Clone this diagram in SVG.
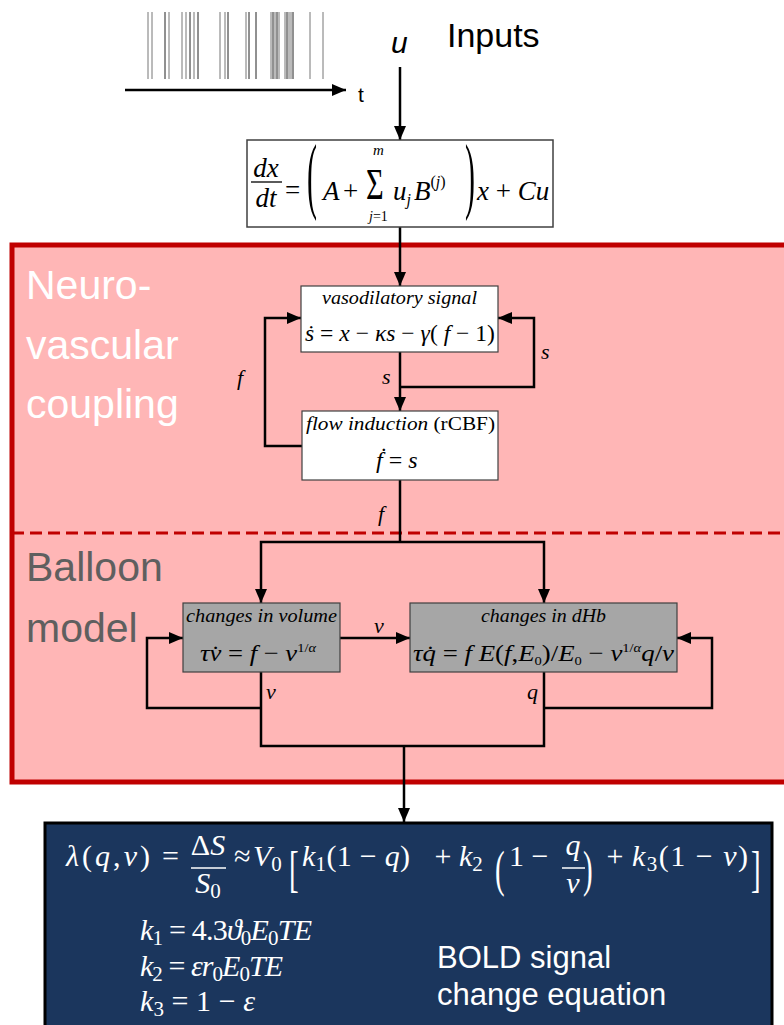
<svg xmlns="http://www.w3.org/2000/svg" width="784" height="1025" viewBox="0 0 784 1025">
<style>
.ln{fill:none;stroke:#000;stroke-width:2.5}
.arr{marker-end:url(#ah)}
.sp{stroke:#777;stroke-width:1}
.sp2{stroke:#222;stroke-width:1}
.sans{font-family:"Liberation Sans",Arial,sans-serif}
.ser{font-family:"Liberation Serif","Times New Roman",serif}
.it{font-style:italic}
.lbl{font-family:"Liberation Serif","Times New Roman",serif;font-style:italic;font-size:22px;fill:#000}
.cap{font-family:"Liberation Serif","Times New Roman",serif;font-style:italic;font-size:19px;fill:#000}
.eq{font-family:"Liberation Serif","Times New Roman",serif;font-size:24px;fill:#000}
.wbox{fill:#fff;stroke:#404040;stroke-width:1.2}
.gbox{fill:#a6a6a6;stroke:#404040;stroke-width:1.2}
.m{font-family:"Liberation Serif","DejaVu Serif",serif;font-size:30px;fill:#fff}
.big{font-family:"Liberation Sans",Arial,sans-serif;font-size:41px}
</style>
<defs>
<marker id="ah" viewBox="0 0 14 12" refX="14" refY="6" markerWidth="14" markerHeight="12" markerUnits="userSpaceOnUse" orient="auto">
<path d="M0,0 L14,6 L0,12 Z" fill="#000"/>
</marker>
</defs>

<!-- region backgrounds -->
<g id="regions">
<rect x="12" y="245" width="790" height="537" fill="#ffb6b6" stroke="#c00000" stroke-width="5"/>
<line x1="12" y1="533" x2="784" y2="533" stroke="#c00000" stroke-width="3" stroke-dasharray="12,6"/>
<text class="big" x="26" y="299" fill="#fff">Neuro-</text>
<text class="big" x="26" y="359" fill="#fff">vascular</text>
<text class="big" x="26" y="418" fill="#fff">coupling</text>
<text class="big" x="26" y="581" fill="#5f5f5f">Balloon</text>
<text class="big" x="26" y="642" fill="#5f5f5f">model</text>
</g>

<!-- inputs -->
<g id="inputs">
<g>
<line class="sp" x1="148" y1="12" x2="148" y2="79"/>
<line class="sp" x1="152" y1="12" x2="152" y2="79"/>
<line class="sp2" x1="165" y1="12" x2="165" y2="79"/>
<line class="sp" x1="169" y1="12" x2="169" y2="79"/>
<line class="sp" x1="182" y1="12" x2="182" y2="79"/>
<line class="sp" x1="186" y1="12" x2="186" y2="79"/>
<line class="sp2" x1="190" y1="12" x2="190" y2="79"/>
<line class="sp" x1="194" y1="12" x2="194" y2="79"/>
<line class="sp2" x1="198" y1="12" x2="198" y2="79"/>
<line class="sp" x1="220" y1="12" x2="220" y2="79"/>
<line class="sp" x1="225" y1="12" x2="225" y2="79"/>
<line class="sp2" x1="228" y1="12" x2="228" y2="79"/>
<line class="sp" x1="246" y1="12" x2="246" y2="79"/>
<line class="sp2" x1="249" y1="12" x2="249" y2="79"/>
<line class="sp2" x1="256" y1="12" x2="256" y2="79"/>
<line class="sp" x1="271" y1="12" x2="271" y2="79"/>
<line class="sp2" x1="273" y1="12" x2="273" y2="79"/>
<line class="sp" x1="275" y1="12" x2="275" y2="79"/>
<line class="sp2" x1="277" y1="12" x2="277" y2="79"/>
<line class="sp" x1="279" y1="12" x2="279" y2="79"/>
<line class="sp" x1="285" y1="12" x2="285" y2="79"/>
<line class="sp2" x1="287" y1="12" x2="287" y2="79"/>
<line class="sp" x1="289" y1="12" x2="289" y2="79"/>
<line class="sp" x1="291" y1="12" x2="291" y2="79"/>
<line class="sp2" x1="293" y1="12" x2="293" y2="79"/>
<line class="sp" x1="310" y1="12" x2="310" y2="79"/>
<line class="sp" x1="323" y1="12" x2="323" y2="79"/>
</g>
<line class="ln arr" x1="125" y1="90" x2="346" y2="90"/>
<text class="sans" x="358" y="102" font-size="21">t</text>
<text class="sans it" x="391" y="53" font-size="30">u</text>
<text class="sans" x="447" y="47" font-size="34">Inputs</text>
</g>

<!-- connectors -->
<g id="connectors">
<path class="ln arr" d="M400,67 V140"/>
<path class="ln arr" d="M400,227 V286"/>
<path class="ln arr" d="M400,352 V411"/>
<path class="ln arr" d="M400,387 H534 V318 H498"/>
<path class="ln arr" d="M302,446 H265 V318 H301"/>
<path class="ln" d="M400,480 V542"/>
<path class="ln arr" d="M400,542 H261 V603"/>
<path class="ln arr" d="M400,542 H544 V603"/>
<path class="ln arr" d="M340,638 H410"/>
<path class="ln arr" d="M261,708 H147 V638 H183"/>
<path class="ln arr" d="M544,708 H712 V638 H677"/>
<path class="ln" d="M261,672 V746 H544 V672"/>
<path class="ln arr" d="M404,746 V822"/>
<text class="lbl" x="237" y="385">f</text>
<text class="lbl" x="541" y="359">s</text>
<text class="lbl" x="382" y="384">s</text>
<text class="lbl" x="378" y="521">f</text>
<text class="lbl" x="374" y="633" font-size="20">v</text>
<text class="lbl" x="266" y="699" font-size="20">v</text>
<text class="lbl" x="527" y="699" font-size="20">q</text>
</g>

<!-- state equation -->
<g id="state-eq">
<rect x="247" y="140" width="306" height="87" fill="#fff" stroke="#404040" stroke-width="1.5"/>
<g class="ser" font-size="27" fill="#000">
<text class="it" x="266" y="177" text-anchor="middle">dx</text>
<line x1="251" y1="182" x2="282" y2="182" stroke="#000" stroke-width="1.3"/>
<text class="it" x="266" y="207" text-anchor="middle">dt</text>
<text x="285" y="199">=</text>
<text transform="translate(307,203) scale(1,2.85)" font-size="30">(</text>
<text class="it" x="323" y="200">A</text>
<text x="343" y="200">+</text>
<text transform="translate(366,199) scale(0.95,1.4)" font-size="32">Σ</text>
<text class="it" x="373" y="155" font-size="15">m</text>
<text x="369" y="221" font-size="14"><tspan font-style="italic">j</tspan>=1</text>
<text x="393" y="200"><tspan font-style="italic">u</tspan><tspan font-style="italic" font-size="16" dy="5">j</tspan><tspan font-style="italic" dy="-5" dx="3">B</tspan><tspan font-size="16" dy="-13">(</tspan><tspan font-size="16" font-style="italic">j</tspan><tspan font-size="16">)</tspan></text>
<text transform="translate(465,203) scale(1,2.85)" font-size="30">)</text>
<text x="477" y="200"><tspan font-style="italic">x</tspan> + <tspan font-style="italic">Cu</tspan></text>
</g>
</g>

<!-- vasodilatory signal -->
<g id="vasodilatory">
<rect class="wbox" x="301" y="286" width="197" height="66"/>
<text class="cap" x="322" y="304" textLength="155" lengthAdjust="spacingAndGlyphs">vasodilatory signal</text>
<text class="eq" x="305" y="341" textLength="190" lengthAdjust="spacingAndGlyphs"><tspan font-style="italic">ṡ</tspan> = <tspan font-style="italic">x</tspan> − <tspan font-style="italic">κs</tspan> − <tspan font-style="italic">γ</tspan>( <tspan font-style="italic">f</tspan> − 1)</text>
</g>

<!-- flow induction -->
<g id="flow">
<rect class="wbox" x="302" y="411" width="196" height="69"/>
<text class="cap" x="306" y="430" textLength="189" lengthAdjust="spacingAndGlyphs">flow induction <tspan font-style="normal">(rCBF)</tspan></text>
<text class="eq" x="376" y="468"><tspan font-style="italic">ḟ</tspan> = <tspan font-style="italic">s</tspan></text>
</g>

<!-- volume -->
<g id="volume">
<rect class="gbox" x="183" y="603" width="157" height="69"/>
<text class="cap" x="186" y="622" textLength="151" lengthAdjust="spacingAndGlyphs">changes in volume</text>
<text class="eq" x="200" y="661" textLength="116" lengthAdjust="spacingAndGlyphs"><tspan font-style="italic">τv̇</tspan> = <tspan font-style="italic">f</tspan> − <tspan font-style="italic">v</tspan><tspan font-size="13" dy="-9">1/<tspan font-style="italic">α</tspan></tspan></text>
</g>

<!-- dHb -->
<g id="dhb">
<rect class="gbox" x="410" y="603" width="267" height="69"/>
<text class="cap" x="481" y="622" textLength="125" lengthAdjust="spacingAndGlyphs">changes in dHb</text>
<text class="eq" x="413" y="661" textLength="261" lengthAdjust="spacingAndGlyphs"><tspan font-style="italic">τq̇</tspan> = <tspan font-style="italic">f E</tspan>(<tspan font-style="italic">f</tspan>,<tspan font-style="italic">E</tspan><tspan font-size="13" dy="4">0</tspan><tspan dy="-4">)/</tspan><tspan font-style="italic">E</tspan><tspan font-size="13" dy="4">0</tspan><tspan dy="-4"> − </tspan><tspan font-style="italic">v</tspan><tspan font-size="13" dy="-9">1/<tspan font-style="italic">α</tspan></tspan><tspan dy="9" font-style="italic">q</tspan>/<tspan font-style="italic">v</tspan></text>
</g>

<!-- BOLD -->
<g id="bold">
<rect x="45" y="823" width="727" height="210" fill="#1b365d" stroke="#000" stroke-width="3"/>
<g class="m">
<text x="66" y="866" textLength="84" lengthAdjust="spacing"><tspan font-style="italic">λ</tspan>(<tspan font-style="italic">q</tspan>,<tspan font-style="italic">ν</tspan>)</text>
<text x="162" y="866">=</text>
<text x="208" y="855" text-anchor="middle">Δ<tspan font-style="italic">S</tspan></text>
<line x1="191" y1="868" x2="226" y2="868" stroke="#fff" stroke-width="1.5"/>
<text x="208" y="893" text-anchor="middle"><tspan font-style="italic">S</tspan><tspan font-size="21" dy="5">0</tspan></text>
<text x="234" y="866">≈</text>
<text x="253" y="866"><tspan font-style="italic">V</tspan><tspan font-size="21" dy="5">0</tspan></text>
<text transform="translate(289,886) scale(1,1.75)" font-size="29">[</text>
<text x="302" y="866" textLength="108" lengthAdjust="spacing"><tspan font-style="italic">k</tspan><tspan font-size="21" dy="5">1</tspan><tspan dy="-5">(1 − </tspan><tspan font-style="italic">q</tspan>)</text>
<text x="443" y="866" text-anchor="middle">+</text>
<text x="459" y="866"><tspan font-style="italic">k</tspan><tspan font-size="21" dy="5">2</tspan></text>
<text transform="translate(495,886) scale(1,1.75)" font-size="29">(</text>
<text x="509" y="866">1</text>
<text x="540" y="866" text-anchor="middle">−</text>
<text x="573" y="855" text-anchor="middle" font-style="italic">q</text>
<line x1="562" y1="868" x2="585" y2="868" stroke="#fff" stroke-width="1.5"/>
<text x="573" y="893" text-anchor="middle" font-style="italic">ν</text>
<text transform="translate(583,886) scale(1,1.75)" font-size="29">)</text>
<text x="615" y="866" text-anchor="middle">+</text>
<text x="632" y="866" textLength="116" lengthAdjust="spacing"><tspan font-style="italic">k</tspan><tspan font-size="21" dy="5">3</tspan><tspan dy="-5">(1 − </tspan><tspan font-style="italic">ν</tspan>)</text>
<text transform="translate(751,886) scale(1,1.75)" font-size="29">]</text>
<text x="140" y="940" textLength="172" lengthAdjust="spacing"><tspan font-style="italic">k</tspan><tspan font-size="21" dy="5">1</tspan><tspan dy="-5"> = 4.3</tspan><tspan font-style="italic">ϑ</tspan><tspan font-size="21" dy="5">0</tspan><tspan font-style="italic" dy="-5">E</tspan><tspan font-size="21" dy="5">0</tspan><tspan font-style="italic" dy="-5">TE</tspan></text>
<text x="140" y="976" textLength="143" lengthAdjust="spacing"><tspan font-style="italic">k</tspan><tspan font-size="21" dy="5">2</tspan><tspan dy="-5"> = </tspan><tspan font-style="italic">εr</tspan><tspan font-size="21" dy="5">0</tspan><tspan font-style="italic" dy="-5">E</tspan><tspan font-size="21" dy="5">0</tspan><tspan font-style="italic" dy="-5">TE</tspan></text>
<text x="140" y="1011" textLength="115" lengthAdjust="spacing"><tspan font-style="italic">k</tspan><tspan font-size="21" dy="5">3</tspan><tspan dy="-5"> = 1 − </tspan><tspan font-style="italic">ε</tspan></text>
</g>
<text class="sans" x="437" y="968" font-size="31" fill="#fff">BOLD signal</text>
<text class="sans" x="437" y="1005" font-size="31" fill="#fff">change equation</text>
</g>
</svg>
